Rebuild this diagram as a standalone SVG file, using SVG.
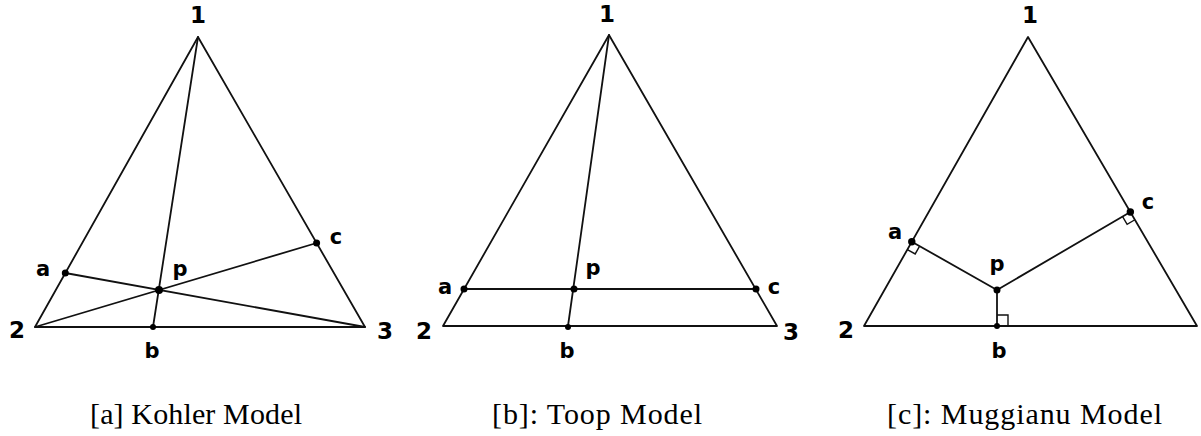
<svg xmlns="http://www.w3.org/2000/svg" width="1201" height="436" viewBox="0 0 1201 436">
<style>
.ln{stroke:#111;stroke-width:1.8;fill:none;stroke-linecap:round;stroke-linejoin:round}
.rt{stroke:#111;stroke-width:1.4;fill:none}
.dot{fill:#000}
.lbl{font-family:"DejaVu Sans","Liberation Sans",sans-serif;font-weight:bold;font-size:21px;fill:#000;text-anchor:middle}
.num{font-family:"DejaVu Sans","Liberation Sans",sans-serif;font-weight:bold;font-size:23px;fill:#000;text-anchor:middle}
.cap{font-family:"Liberation Serif","Times New Roman",serif;font-size:30px;fill:#000}
</style>
<rect width="1201" height="436" fill="#fff"/>

<!-- Panel A: Kohler -->
<g id="panel-a">
  <g id="a-triangle"><polygon class="ln" points="198,37 35,327 365,327"/></g>
  <g id="a-connectors">
    <line class="ln" x1="65.3" y1="273" x2="365" y2="327"/>
    <line class="ln" x1="316.6" y1="243" x2="35" y2="327"/>
    <line class="ln" x1="198" y1="37" x2="153" y2="327"/>
  </g>
  <g id="a-v1"><text class="num" x="198" y="23">1</text></g>
  <g id="a-v2"><text class="num" x="17" y="338">2</text></g>
  <g id="a-v3"><text class="num" x="385" y="339">3</text></g>
  <g id="a-a"><circle class="dot" cx="65.3" cy="273" r="3.5"/><text class="lbl" x="43" y="276">a</text></g>
  <g id="a-c"><circle class="dot" cx="316.6" cy="243" r="3.5"/><text class="lbl" x="336" y="244">c</text></g>
  <g id="a-p"><circle class="dot" cx="159" cy="290" r="4"/><text class="lbl" x="180" y="276">p</text></g>
  <g id="a-b"><circle class="dot" cx="153" cy="327" r="3"/><text class="lbl" x="152" y="358">b</text></g>
  <text class="cap" x="90" y="424" textLength="212">[a] Kohler Model</text>
</g>

<!-- Panel B: Toop -->
<g id="panel-b">
  <g id="b-triangle"><polygon class="ln" points="609,35 443,326 777,326"/></g>
  <g id="b-connectors">
    <line class="ln" x1="464" y1="289" x2="756" y2="289"/>
    <line class="ln" x1="609" y1="35" x2="568" y2="326"/>
  </g>
  <g id="b-v1"><text class="num" x="607" y="22">1</text></g>
  <g id="b-v2"><text class="num" x="424" y="339">2</text></g>
  <g id="b-v3"><text class="num" x="791" y="340">3</text></g>
  <g id="b-a"><circle class="dot" cx="464" cy="289" r="3.5"/><text class="lbl" x="445" y="294">a</text></g>
  <g id="b-c"><circle class="dot" cx="756" cy="289" r="3.5"/><text class="lbl" x="774" y="294">c</text></g>
  <g id="b-p"><circle class="dot" cx="574" cy="289" r="3.5"/><text class="lbl" x="593" y="275">p</text></g>
  <g id="b-b"><circle class="dot" cx="568" cy="327" r="3"/><text class="lbl" x="567" y="358">b</text></g>
  <text class="cap" x="492" y="424" textLength="210">[b]: Toop Model</text>
</g>

<!-- Panel C: Muggianu -->
<g id="panel-c">
  <g id="c-triangle"><polygon class="ln" points="1028,37 864,326 1197,326"/></g>
  <g id="c-connectors">
    <line class="ln" x1="911.8" y1="241.7" x2="997" y2="290"/>
    <line class="ln" x1="1130.35" y1="212" x2="997" y2="290"/>
    <line class="ln" x1="997" y1="290" x2="997" y2="326"/>
    <polyline class="rt" points="907.36,249.53 915.19,253.97 919.63,246.14"/>
    <polyline class="rt" points="1134.89,219.77 1127.12,224.31 1122.58,216.54"/>
    <polyline class="rt" points="997,315 1008,315 1008,326"/>
  </g>
  <g id="c-v1"><text class="num" x="1030" y="23">1</text></g>
  <g id="c-v2"><text class="num" x="846" y="338">2</text></g>
  <g id="c-a"><circle class="dot" cx="911.8" cy="241.7" r="3.7"/><text class="lbl" x="895" y="239">a</text></g>
  <g id="c-c"><circle class="dot" cx="1130.35" cy="212" r="3.7"/><text class="lbl" x="1148" y="209">c</text></g>
  <g id="c-p"><circle class="dot" cx="997" cy="290" r="3.5"/><text class="lbl" x="997" y="271">p</text></g>
  <g id="c-b"><circle class="dot" cx="997" cy="326" r="3"/><text class="lbl" x="999" y="358">b</text></g>
  <text class="cap" x="887" y="424" textLength="275">[c]: Muggianu Model</text>
</g>
</svg>
